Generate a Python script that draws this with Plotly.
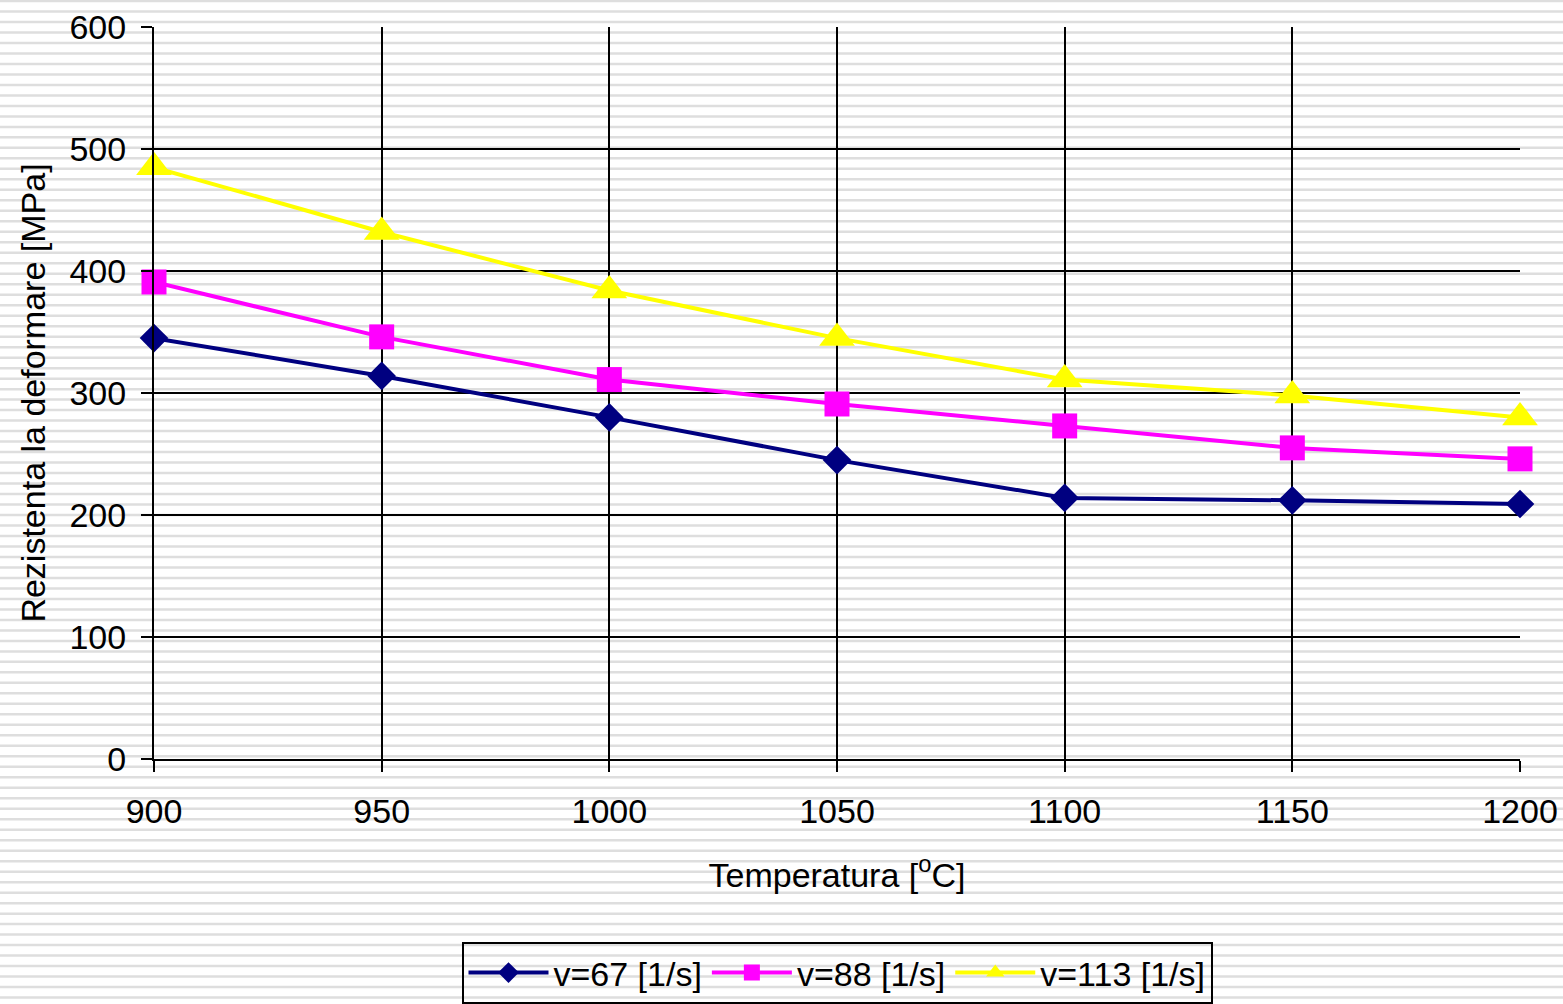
import plotly.graph_objects as go

# Data: flow stress vs. deformation temperature for three strain rates
temperatura = [900, 950, 1000, 1050, 1100, 1150, 1200]
v67 = [345, 314, 280, 245, 214, 212, 209]
v88 = [391, 346, 311, 291, 273, 255, 246]
v113 = [485, 432, 384, 345, 311, 298, 280]

serii = [
    ("v=67 [1/s]", v67, "#000080", "diamond", 22),
    ("v=88 [1/s]", v88, "#FF00FF", "square", 25),
    ("v=113 [1/s]", v113, "#FFFF00", "triangle-up", 31),
]

W, H = 1563, 1004
ML, MR, MT, MB = 154, 43, 27, 245
PW, PH = W - ML - MR, H - MT - MB

fig = go.Figure()
for nume, val, cul, simbol, dim in serii:
    fig.add_trace(go.Scatter(
        x=temperatura, y=val, name=nume, mode="lines+markers",
        line=dict(color=cul, width=4),
        marker=dict(symbol=simbol, size=dim, color=cul, line=dict(width=0)),
        cliponaxis=False,
    ))

# striped page background (thin light-gray horizontal lines)
shapes = []
period = 10.49
ypx = 1.0
while ypx < H + 2:
    yp = (H - MB - ypx) / PH
    shapes.append(dict(
        type="line", xref="paper", yref="paper", layer="below",
        x0=-ML / PW, x1=(W - ML) / PW, y0=yp, y1=yp,
        line=dict(color="#dedede", width=2.5),
    ))
    ypx += period

font = "Liberation Sans, Arial, sans-serif"
fs = 34

fig.update_layout(
    width=W, height=H,
    margin=dict(l=ML, r=MR, t=MT, b=MB, autoexpand=False),
    paper_bgcolor="white",
    plot_bgcolor="rgba(0,0,0,0)",
    font=dict(family=font, size=fs, color="black"),
    shapes=shapes,
    showlegend=True,
    legend=dict(
        orientation="h", x=0.5, xanchor="center", y=-0.25, yanchor="top",
        bgcolor="rgba(0,0,0,0)", bordercolor="black", borderwidth=2,
        font=dict(family=font, size=fs), itemwidth=80,
        traceorder="normal",
    ),
    xaxis=dict(
        range=[900, 1200], tickvals=temperatura,
        showgrid=True, gridcolor="black", gridwidth=2,
        zeroline=False, showline=True, linecolor="black", linewidth=2,
        ticks="outside", ticklen=11, tickwidth=2, tickcolor="black",
        ticklabelstandoff=10,
        title=dict(text="Temperatura [<sup>o</sup>C]", standoff=34,
                   font=dict(family=font, size=fs)),
    ),
    yaxis=dict(
        range=[0, 600], dtick=100,
        showgrid=True, gridcolor="black", gridwidth=2,
        zeroline=False, showline=True, linecolor="black", linewidth=2,
        ticks="outside", ticklen=11, tickwidth=2, tickcolor="black",
        ticklabelstandoff=8,
        title=dict(text="Rezistenta la deformare [MPa]", standoff=14,
                   font=dict(family=font, size=fs)),
    ),
)

fig.write_html("out.html")
